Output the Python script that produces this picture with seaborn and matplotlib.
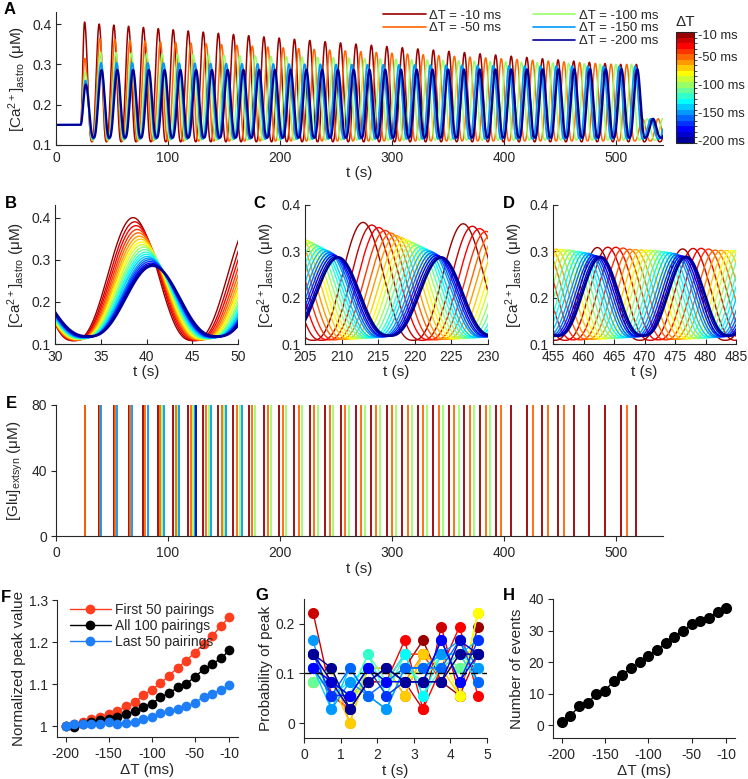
import numpy as np
import pandas as pd
import matplotlib
matplotlib.use("Agg")
import matplotlib.pyplot as plt
import seaborn as sns
from matplotlib.colors import ListedColormap, BoundaryNorm
from matplotlib.cm import ScalarMappable
from matplotlib.lines import Line2D
from matplotlib.ticker import FuncFormatter

sns.set_style("ticks")
plt.rcParams["font.family"] = ["Liberation Sans", "DejaVu Sans"]
plt.rcParams["mathtext.default"] = "regular"
plt.rcParams["axes.unicode_minus"] = False

# 1. values
dT = [-10, -20, -30, -40, -50, -60, -70, -80, -90, -100,
      -110, -120, -130, -140, -150, -160, -170, -180, -190, -200]
legend_dT = [-10, -50, -100, -150, -200]

# astrocyte Ca2+ oscillation, per delta T (uM, s)
first_peak_t = [25.5, 25.55, 25.6, 25.65, 25.7, 25.75, 25.8, 25.85, 25.9, 26.0,
                26.05, 26.1, 26.15, 26.2, 26.3, 26.35, 26.4, 26.45, 26.5, 26.6]
first_peak = [0.405, 0.38, 0.355, 0.335, 0.315, 0.305, 0.297, 0.29, 0.285, 0.28,
              0.276, 0.272, 0.268, 0.264, 0.26, 0.258, 0.256, 0.254, 0.252, 0.25]
peak_early = [0.400, 0.390, 0.381, 0.372, 0.364, 0.356, 0.349, 0.342, 0.336, 0.330,
              0.324, 0.318, 0.313, 0.308, 0.304, 0.300, 0.296, 0.292, 0.289, 0.286]
peak_late = [0.300, 0.302, 0.303, 0.302, 0.300, 0.300, 0.300, 0.300, 0.300, 0.300,
             0.299, 0.298, 0.297, 0.296, 0.295, 0.293, 0.291, 0.290, 0.289, 0.288]
trough = [0.108, 0.108, 0.109, 0.109, 0.110, 0.110, 0.111, 0.111, 0.112, 0.112,
          0.113, 0.113, 0.114, 0.114, 0.115, 0.115, 0.116, 0.116, 0.117, 0.118]
phase_lead = [1.05, 0.92, 0.82, 0.73, 0.65, 0.58, 0.51, 0.45, 0.40, 0.35,
              0.30, 0.25, 0.21, 0.17, 0.13, 0.10, 0.07, 0.045, 0.02, 0.0]
period = 14.07
lead_tau = 180.0
t_on, t_off = 22.0, 522.0
ca_rest = 0.15
ca_after = 0.165

# glutamate events: which Ca peaks gave a release (peak index per trace)
glu_events = {
    -10: list(range(0, 37)),
    -50: [0, 1, 2, 3, 4, 5, 6, 7, 8, 9, 10, 11, 12, 13, 14, 15, 16, 17, 18, 19,
          20, 21, 22, 23, 24, 25, 26, 27, 29, 30, 31, 35],
    -100: [5, 6, 7, 8, 9, 10, 11, 12, 13, 14, 15, 16, 17, 18, 19, 20, 21, 22, 23, 24, 25, 26],
    -150: [1, 2, 3, 4, 5, 6, 7, 8, 9, 10],
    -200: [7],
}

# F: normalized peak value
F_first50 = [1.0, 1.006, 1.01, 1.016, 1.022, 1.029, 1.035, 1.047, 1.057, 1.073,
             1.087, 1.102, 1.12, 1.139, 1.156, 1.175, 1.195, 1.214, 1.238, 1.259]
F_all100 = [1.0, 0.998, 1.006, 1.01, 1.014, 1.018, 1.022, 1.029, 1.035, 1.046,
            1.053, 1.069, 1.078, 1.092, 1.101, 1.117, 1.135, 1.147, 1.161, 1.18]
F_last50 = [1.0, 1.005, 1.005, 1.006, 1.005, 1.01, 1.006, 1.008, 1.009, 1.017,
            1.021, 1.03, 1.035, 1.041, 1.047, 1.055, 1.07, 1.077, 1.085, 1.097]
F_dT = [-200, -190, -180, -170, -160, -150, -140, -130, -120, -110,
        -100, -90, -80, -70, -60, -50, -40, -30, -20, -10]

# G: peaks per 0.5 s bin (out of 36), rows follow dT
G_bins = [0.25, 0.75, 1.25, 1.75, 2.25, 2.75, 3.25, 3.75, 4.25, 4.75]
G_counts = [
    [3, 3, 2, 3, 3, 4, 6, 3, 2, 7],
    [8, 2, 1, 3, 4, 3, 1, 7, 2, 5],
    [5, 3, 2, 3, 3, 6, 1, 4, 7, 2],
    [4, 3, 1, 4, 3, 5, 5, 3, 5, 3],
    [4, 2, 2, 3, 4, 2, 5, 4, 5, 5],
    [3, 4, 0, 4, 4, 3, 5, 4, 4, 5],
    [4, 3, 0, 4, 4, 2, 5, 4, 2, 8],
    [3, 4, 1, 4, 2, 3, 4, 5, 2, 8],
    [3, 3, 2, 3, 4, 3, 4, 5, 4, 5],
    [3, 4, 1, 4, 3, 4, 4, 5, 4, 4],
    [3, 3, 2, 5, 3, 4, 3, 5, 4, 4],
    [4, 3, 2, 5, 2, 5, 2, 4, 5, 4],
    [4, 2, 3, 4, 3, 5, 2, 5, 5, 3],
    [4, 1, 4, 2, 1, 4, 4, 5, 5, 6],
    [6, 1, 3, 2, 1, 4, 4, 5, 6, 4],
    [4, 2, 4, 2, 3, 4, 4, 4, 6, 3],
    [5, 2, 2, 4, 2, 3, 3, 6, 3, 6],
    [4, 3, 2, 4, 3, 3, 3, 6, 3, 5],
    [5, 3, 1, 3, 4, 3, 3, 3, 6, 5],
    [5, 4, 1, 3, 4, 3, 3, 3, 5, 5],
]

# H: number of events
H_events = [1, 3, 6, 7, 10, 11, 14, 16, 18, 20, 22, 24, 26, 28, 30, 32, 33, 34, 36, 37]

# MATLAB jet(20), first entry = -200 ms
jet20 = [(0, 0, 0.6), (0, 0, 0.8), (0, 0, 1), (0, 0.2, 1), (0, 0.4, 1),
         (0, 0.6, 1), (0, 0.8, 1), (0, 1, 1), (0.2, 1, 0.8), (0.4, 1, 0.6),
         (0.6, 1, 0.4), (0.8, 1, 0.2), (1, 1, 0), (1, 0.8, 0), (1, 0.6, 0),
         (1, 0.4, 0), (1, 0.2, 0), (1, 0, 0), (0.8, 0, 0), (0.6, 0, 0)]
pal = {d: jet20[19 - i] for i, d in enumerate(dT)}


# 2. Ca traces
def ca_trace(k, t):
    tp1 = first_peak_t[k]
    ph = (t - tp1) / period + phase_lead[k] * (1 - np.exp(-np.clip(t - tp1, 0, None) / lead_tau))
    n = np.clip(np.round(ph), 0, None).astype(int)
    idx = np.arange(0, n.max() + 1)
    t_n = np.interp(idx, ph, t)
    pk = np.interp(t_n, [40, 500], [peak_early[k], peak_late[k]])
    pk[0] = first_peak[k]
    pk[t_n > t_off] = ca_after
    shape = ((1 + np.cos(2 * np.pi * ph)) / 2) ** 1.3
    y = trough[k] + (pk[n] - trough[k]) * shape
    s = np.clip((t - t_on) / (tp1 - t_on), 0, 1)
    y_pre = ca_rest + (first_peak[k] - ca_rest) * (1 - np.cos(np.pi * s)) / 2
    y = np.where(t < tp1, y_pre, y)
    return y, t_n


t = np.arange(0, 542.01, 0.05)
frames = []
peak_times = {}
for k, d in enumerate(dT):
    y, t_n = ca_trace(k, t)
    peak_times[d] = t_n
    frames.append(pd.DataFrame({"t": t, "ca": y, "dT": d}))
ca = pd.concat(frames, ignore_index=True)

W, H = 748, 779
fig = plt.figure(figsize=(W / 100, H / 100), dpi=100)


def rect(l, tp, r, b):
    return [l / W, 1 - b / H, (r - l) / W, (b - tp) / H]


txt = "#262626"
gfmt = FuncFormatter(lambda v, p: f"{v:g}")
LAB = 11
TCK = 10


def style(ax, tdir="in"):
    sns.despine(ax=ax)
    for s in ["left", "bottom"]:
        ax.spines[s].set_color(txt)
        ax.spines[s].set_linewidth(0.8)
    ax.tick_params(direction=tdir, length=3.5, width=0.8, colors=txt, labelsize=TCK)
    ax.tick_params(axis="x", pad=4)
    ax.tick_params(axis="y", pad=3)
    ax.xaxis.label.set_color(txt)
    ax.yaxis.label.set_color(txt)
    ax.yaxis.set_major_formatter(gfmt)
    ax.xaxis.set_major_formatter(gfmt)


ca_label = "[Ca$^{2+}$]$_{astro}$ (μM)"
lw_map = {d: (2.0 if d == -200 else 1.0) for d in dT}

# A
axA = fig.add_axes(rect(56, 12, 663, 145))
lwA = {-10: 1.1, -50: 1.1, -100: 1.1, -150: 1.3, -200: 1.6}
sns.lineplot(data=ca[ca.dT.isin(legend_dT)], x="t", y="ca", hue="dT", hue_order=legend_dT,
             palette=pal, size="dT", sizes=lwA, size_order=legend_dT,
             estimator=None, legend=False, ax=axA)
axA.set_xlim(0, 542)
axA.set_ylim(0.1, 0.43)
axA.set_xticks([0, 100, 200, 300, 400, 500])
axA.set_yticks([0.1, 0.2, 0.3, 0.4])
axA.set_xlabel("t (s)", fontsize=LAB, labelpad=1)
axA.set_ylabel(ca_label, fontsize=LAB, labelpad=3)
style(axA)
handles = [Line2D([], [], color=pal[-10], lw=1.2), Line2D([], [], color=pal[-50], lw=1.2),
           Line2D([], [], color="none"),
           Line2D([], [], color=pal[-100], lw=1.2), Line2D([], [], color=pal[-150], lw=1.2),
           Line2D([], [], color=pal[-200], lw=1.2)]
labels = ["ΔT = -10 ms", "ΔT = -50 ms", "", "ΔT = -100 ms", "ΔT = -150 ms", "ΔT = -200 ms"]
fig.legend(handles, labels, ncol=2, frameon=False, fontsize=9.5, handlelength=3.2,
           columnspacing=2.4, handletextpad=0.3, labelspacing=0.05, labelcolor=txt,
           loc="upper left", bbox_to_anchor=(378 / W, 1 - 4 / H), borderaxespad=0)

# colorbar
cax = fig.add_axes(rect(676, 32, 694, 143))
cmap = ListedColormap(jet20)
norm = BoundaryNorm(np.arange(-205, 0, 10), 20)
cb = fig.colorbar(ScalarMappable(norm=norm, cmap=cmap), cax=cax, ticks=legend_dT)
cb.ax.set_yticklabels([f"{v} ms" for v in legend_dT])
cb.ax.tick_params(labelsize=9.3, colors=txt, length=2, width=0.6, direction="in", pad=3)
cb.outline.set_linewidth(0.8)
cb.outline.set_edgecolor(txt)
cax.set_title("ΔT", fontsize=11, color=txt, pad=4)

# B, C, D
zooms = [("B", 55, (30, 50), 0.43, [30, 35, 40, 45, 50]),
         ("C", 305, (205, 230), 0.4, [205, 210, 215, 220, 225, 230]),
         ("D", 553, (455, 485), 0.4, [455, 460, 465, 470, 475, 480, 485])]
for name, left, (t0, t1), ytop, xt in zooms:
    ax = fig.add_axes(rect(left, 205, left + 183, 344))
    sub = ca[(ca.t >= t0 - 0.5) & (ca.t <= t1 + 0.5)]
    sns.lineplot(data=sub, x="t", y="ca", hue="dT", hue_order=dT, palette=pal,
                 size="dT", sizes=lw_map, size_order=dT, estimator=None, legend=False, ax=ax)
    ax.set_xlim(t0, t1)
    ax.set_ylim(0.1, ytop)
    ax.set_xticks(xt)
    ax.set_yticks([0.1, 0.2, 0.3, 0.4])
    ax.set_xlabel("t (s)", fontsize=LAB, labelpad=1)
    ax.set_ylabel(ca_label, fontsize=LAB, labelpad=3)
    style(ax)

# E
axE = fig.add_axes(rect(56, 405, 663, 536))
for d in legend_dT:
    ev_t = peak_times[d][glu_events[d]]
    axE.vlines(ev_t, 0, 80, color=pal[d], lw=1.3)
axE.set_xlim(0, 542)
axE.set_ylim(0, 80)
axE.set_xticks([0, 100, 200, 300, 400, 500])
axE.set_yticks([0, 40, 80])
axE.set_xlabel("t (s)", fontsize=LAB, labelpad=1)
axE.set_ylabel("[Glu]$_{extsyn}$ (μM)", fontsize=LAB, labelpad=5)
style(axE, "out")

# F
axF = fig.add_axes(rect(57, 600, 238, 737))
dfF = pd.DataFrame({"dT": F_dT * 3,
                    "v": F_first50 + F_all100 + F_last50,
                    "set": ["First 50 pairings"] * 20 + ["All 100 pairings"] * 20 + ["Last 50 pairings"] * 20})
sns.lineplot(data=dfF, x="dT", y="v", hue="set",
             palette={"First 50 pairings": "#ff3d1f", "All 100 pairings": "black",
                      "Last 50 pairings": "#1e7ef7"},
             marker="o", markersize=7, markeredgewidth=0, lw=1, ax=axF)
axF.set_xlim(-210, 0)
axF.set_ylim(0.974, 1.3)
axF.set_xticks([-200, -150, -100, -50, -10])
axF.set_yticks([1, 1.1, 1.2, 1.3])
axF.set_xlabel("ΔT (ms)", fontsize=LAB, labelpad=1)
axF.set_ylabel("Normalized peak value", fontsize=LAB, labelpad=2)
style(axF, "out")
axF.legend(frameon=False, fontsize=10, loc="upper left", bbox_to_anchor=(0.0, 1.07),
           handlelength=3.0, handletextpad=0.3, labelspacing=0.15, labelcolor=txt)

# G
axG = fig.add_axes(rect(304, 599, 487, 738))
dfG = pd.DataFrame([(d, b, c / 36) for d, row in zip(dT, G_counts) for b, c in zip(G_bins, row)],
                   columns=["dT", "t", "p"])
sns.lineplot(data=dfG, x="t", y="p", hue="dT", hue_order=dT, palette=pal, marker="o",
             markersize=8, markeredgewidth=0, lw=1, estimator=None, legend=False, ax=axG)
axG.axhline(0.1, color="black", ls=(0, (5, 3)), lw=1)
axG.set_xlim(0, 5)
axG.set_ylim(-0.03, 0.25)
axG.set_xticks([0, 1, 2, 3, 4, 5])
axG.set_yticks([0, 0.1, 0.2])
axG.set_xlabel("t (s)", fontsize=LAB, labelpad=1)
axG.set_ylabel("Probability of peak", fontsize=LAB, labelpad=2)
style(axG, "out")

# H
axH = fig.add_axes(rect(553, 599, 735, 738))
dfH = pd.DataFrame({"dT": F_dT, "n": H_events})
sns.lineplot(data=dfH, x="dT", y="n", color="black", marker="o", markersize=8,
             markeredgewidth=0, lw=1, ax=axH)
axH.set_xlim(-210, 0)
axH.set_ylim(-4, 40)
axH.set_xticks([-200, -150, -100, -50, -10])
axH.set_yticks([0, 10, 20, 30, 40])
axH.set_xlabel("ΔT (ms)", fontsize=LAB, labelpad=1)
axH.set_ylabel("Number of events", fontsize=LAB, labelpad=3)
style(axH, "out")

# panel letters
for s, x, y in [("A", 4, 2), ("B", 5, 196), ("C", 253, 196), ("D", 503, 196),
                ("E", 6, 396), ("F", 1, 590), ("G", 255, 588), ("H", 503, 588)]:
    fig.text(x / W, 1 - y / H, s, fontsize=12, fontweight="bold", va="top", ha="left",
             color="black")

fig.savefig("out.png", dpi=100)
